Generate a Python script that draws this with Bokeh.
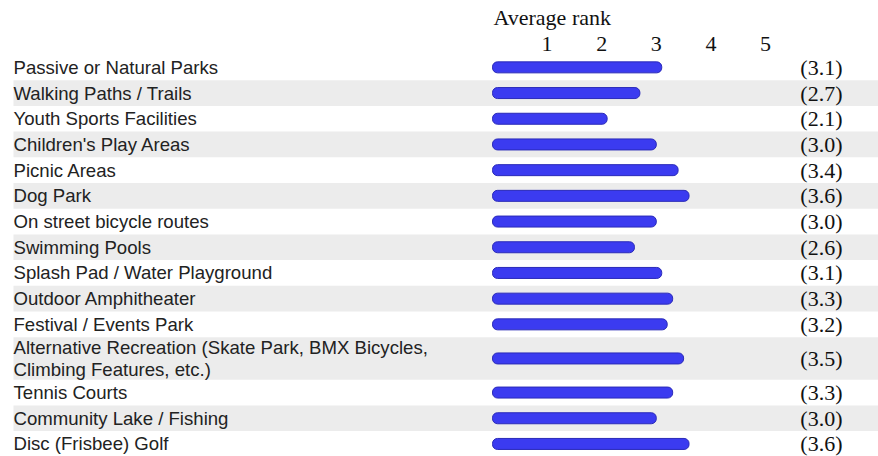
from bokeh.plotting import figure
from bokeh.models import Range1d, ColumnDataSource
from bokeh.core.properties import value
from bokeh.embed import file_html
from bokeh.resources import INLINE

# ---- data ----
categories = [
    "Passive or Natural Parks",
    "Walking Paths / Trails",
    "Youth Sports Facilities",
    "Children's Play Areas",
    "Picnic Areas",
    "Dog Park",
    "On street bicycle routes",
    "Swimming Pools",
    "Splash Pad / Water Playground",
    "Outdoor Amphitheater",
    "Festival / Events Park",
    "Alternative Recreation (Skate Park, BMX Bicycles,\nClimbing Features, etc.)",
    "Tennis Courts",
    "Community Lake / Fishing",
    "Disc (Frisbee) Golf",
]
avg_rank = [3.1, 2.7, 2.1, 3.0, 3.4, 3.6, 3.0, 2.6, 3.1, 3.3, 3.2, 3.5, 3.3, 3.0, 3.6]
tick_values = [1, 2, 3, 4, 5]
tick_labels = ["1", "2", "3", "4", "5"]
axis_title = "Average rank"

# ---- layout (pixels, page coordinates) ----
W, H = 878, 456
ORIGIN = 0           # page px of the figure's left/top edge
ZERO_PX = 492.0      # page x of rank 0
PX_PER_UNIT = 54.6
ROW_H = 25.7
TALL_ROW_H = 42.5
TOP = 54.0


def vx(px):
    return (px - ZERO_PX) / PX_PER_UNIT


x_start, x_end = vx(ORIGIN), vx(ORIGIN + W)

tops, bottoms, centers = [], [], []
y = TOP
for c in categories:
    h = TALL_ROW_H if "\n" in c else ROW_H
    tops.append(y)
    bottoms.append(y + h)
    centers.append(y + h / 2)
    y += h

p = figure(width=W, height=H, output_backend="svg", toolbar_location=None,
           x_range=Range1d(x_start, x_end), y_range=Range1d(ORIGIN + H, ORIGIN),
           min_border=0, outline_line_color=None)
p.axis.visible = False
p.grid.visible = False
p.background_fill_color = "white"
p.border_fill_color = "white"

# alternating bands
bt = [tops[i] for i in range(len(categories)) if i % 2 == 1]
bb = [bottoms[i] for i in range(len(categories)) if i % 2 == 1]
p.quad(left=vx(13), right=x_end, top=bt, bottom=bb,
       fill_color="#ececec", line_color=None)

src = ColumnDataSource(dict(
    cat=categories, val=avg_rank, y=centers,
    vlab=["(%.1f)" % v for v in avg_rank],
))

p.hbar(y="y", left=0, right="val", height=11, source=src,
       fill_color="#3b3bf0", line_color="#2a2ab8", line_width=1,
       border_radius=5)

p.text(x=vx(13), y="y", text="cat", source=src,
       text_font=value("Liberation Sans"), text_font_size="18.6px",
       text_color="#222222", text_align="left", text_baseline="middle",
       text_line_height=1.08)

p.text(x=vx(842), y="y", text="vlab", source=src,
       text_font=value("Liberation Serif"), text_font_size="22px",
       text_color="#111111", text_align="right", text_baseline="middle")

# axis header
p.text(x=tick_values, y=[43] * len(tick_values), text=tick_labels,
       text_font=value("Liberation Serif"), text_font_size="22px",
       text_color="#111111", text_align="center", text_baseline="middle")
p.text(x=[vx(493)], y=[17], text=[axis_title],
       text_font=value("Liberation Serif"), text_font_size="22px",
       text_color="#111111", text_align="left", text_baseline="middle")

open("out.html", "w").write(file_html(p, INLINE))
